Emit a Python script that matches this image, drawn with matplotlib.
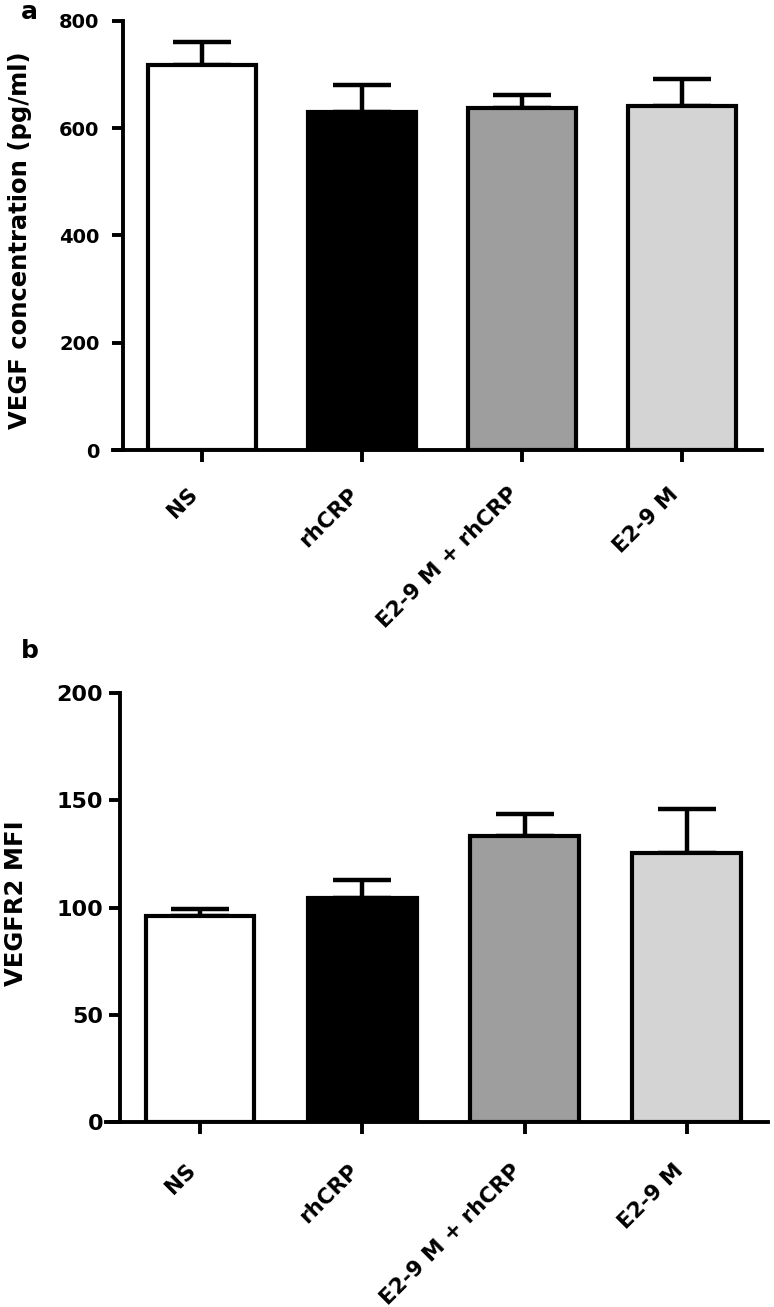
import matplotlib
matplotlib.use("Agg")
import matplotlib.pyplot as plt

categories = ["NS", "rhCRP", "E2-9 M + rhCRP", "E2-9 M"]
vegf_values = [717, 629, 638, 641]
vegf_errors = [44, 51, 23, 51]
vegfr2_values = [95.9, 104.5, 133.3, 125.7]
vegfr2_errors = [3.7, 8.2, 10.3, 20.1]
bar_colors = ["#ffffff", "#000000", "#9e9e9e", "#d4d4d4"]
yticks_a = [0, 200, 400, 600, 800]
yticks_b = [0, 50, 100, 150, 200]

plt.rcParams['font.family'] = ['DejaVu Sans']
plt.rcParams['font.weight'] = 'bold'

W, H = 774, 1307
fig = plt.figure(figsize=(W / 100, H / 100), dpi=100)


def make_panel(rect, values, errors, yticks, ylim, xlim, spine_x, ytick_size,
               ypad, xpad):
    ax = fig.add_axes(rect)
    x = list(range(len(values)))
    ax.errorbar(x, values, yerr=[[0] * len(values), errors], fmt='none',
                ecolor='black', elinewidth=3.2, capsize=21, capthick=3.2, zorder=2)
    ax.bar(x, values, width=0.67, color=bar_colors, edgecolor='black',
           linewidth=3.0, zorder=3)
    ax.set_xlim(*xlim)
    ax.set_ylim(*ylim)
    ax.spines['top'].set_visible(False)
    ax.spines['right'].set_visible(False)
    ax.spines['left'].set_position(('data', spine_x))
    for s in ('left', 'bottom'):
        ax.spines[s].set_linewidth(2.8)
        ax.spines[s].set_capstyle('projecting')
    ax.set_yticks(yticks)
    ax.set_yticklabels([str(t) for t in yticks], fontsize=ytick_size, fontweight='bold')
    ax.set_xticks(x)
    ax.set_xticklabels(categories, rotation=45, ha='right', fontsize=15.5,
                       fontweight='bold')
    ax.tick_params(axis='y', direction='out', length=8, width=2.8, pad=ypad)
    ax.tick_params(axis='x', direction='out', length=8.5, width=2.8, pad=xpad)
    ax.set_facecolor('none')
    for sp in ax.spines.values():
        sp.set_zorder(4)
    return ax


# Panel a
ax_a = make_panel([113 / W, (H - 450) / H, (762 - 113) / W, (450 - 20.7) / H],
                  vegf_values, vegf_errors, yticks_a, (0, 800),
                  ((113 - 202) / 160, 3.5), (123 - 202) / 160, 14, 9, 16)
# Panel b
ax_b = make_panel([106 / W, (H - 1122) / H, (768 - 106) / W, (1122 - 693.3) / H],
                  vegfr2_values, vegfr2_errors, yticks_b, (0, 200),
                  ((106 - 200) / 162.3, 3.5), (120 - 200) / 162.3, 16, 4, 19)

fig.text(20 / W, 1 - 240 / H, "VEGF concentration (pg/ml)", rotation=90,
         ha='center', va='center', fontsize=17.5, fontweight='bold')
fig.text(16 / W, 1 - 903 / H, "VEGFR2 MFI", rotation=90,
         ha='center', va='center', fontsize=17.5, fontweight='bold')

fig.text(21 / W, 1 - 0 / H, "a", ha='left', va='top', fontsize=18, fontweight='bold')
fig.text(21 / W, 1 - 639 / H, "b", ha='left', va='top', fontsize=18, fontweight='bold')

fig.savefig("out.png", dpi=100, facecolor='white')
